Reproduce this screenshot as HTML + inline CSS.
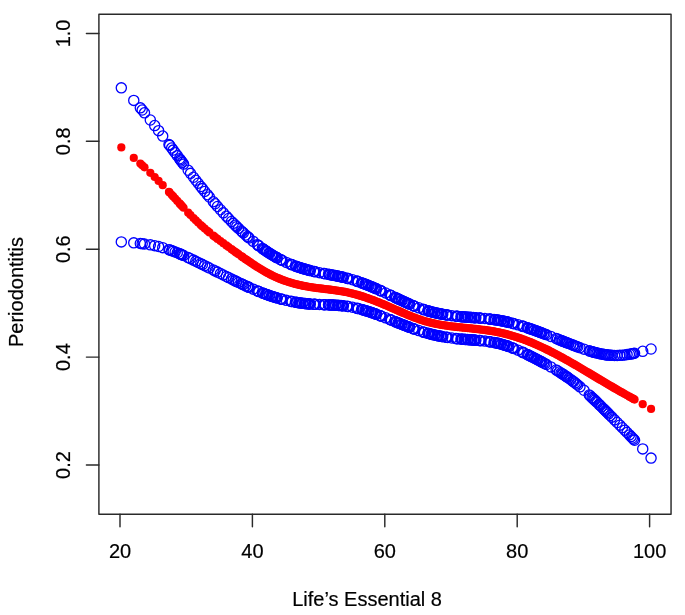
<!DOCTYPE html>
<html lang="en">
<head>
<meta charset="utf-8">
<title>Life’s Essential 8 and Periodontitis</title>
<style>
html,body{margin:0;padding:0;background:#fff;}
body{width:685px;height:615px;overflow:hidden;font-family:"Liberation Sans", Arial, Helvetica, sans-serif;}
svg{display:block;}
</style>
</head>
<body>
<svg width="685" height="615" viewBox="0 0 685 615">
<rect x="0" y="0" width="685" height="615" fill="#ffffff"/>
<g fill="none" stroke="#0000ff" stroke-width="1.3"><circle cx="121.32" cy="87.84" r="5.1"/><circle cx="133.77" cy="100.42" r="5.1"/><circle cx="140.32" cy="107.84" r="5.1"/><circle cx="142.18" cy="110.03" r="5.1"/><circle cx="144.49" cy="112.81" r="5.1"/><circle cx="150.32" cy="120" r="5.1"/><circle cx="154.69" cy="125.57" r="5.1"/><circle cx="158.59" cy="130.65" r="5.1"/><circle cx="162.7" cy="136.06" r="5.1"/><circle cx="168.99" cy="144.48" r="5.1"/><circle cx="169.65" cy="145.37" r="5.1"/><circle cx="171.64" cy="148.05" r="5.1"/><circle cx="173.16" cy="150.1" r="5.1"/><circle cx="175.14" cy="152.79" r="5.1"/><circle cx="177.26" cy="155.65" r="5.1"/><circle cx="179.58" cy="158.77" r="5.1"/><circle cx="180.37" cy="159.84" r="5.1"/><circle cx="181.24" cy="161" r="5.1"/><circle cx="182.23" cy="162.34" r="5.1"/><circle cx="183.55" cy="164.11" r="5.1"/><circle cx="188.19" cy="170.29" r="5.1"/><circle cx="190.5" cy="173.35" r="5.1"/><circle cx="193.48" cy="177.25" r="5.1"/><circle cx="195.8" cy="180.24" r="5.1"/><circle cx="198.12" cy="183.2" r="5.1"/><circle cx="200.76" cy="186.54" r="5.1"/><circle cx="202.42" cy="188.6" r="5.1"/><circle cx="204.74" cy="191.46" r="5.1"/><circle cx="207.38" cy="194.68" r="5.1"/><circle cx="209.37" cy="197.05" r="5.1"/><circle cx="213.34" cy="201.72" r="5.1"/><circle cx="215.13" cy="203.79" r="5.1"/><circle cx="217.51" cy="206.5" r="5.1"/><circle cx="220.43" cy="209.76" r="5.1"/><circle cx="223.27" cy="212.87" r="5.1"/><circle cx="226.32" cy="216.13" r="5.1"/><circle cx="228.57" cy="218.49" r="5.1"/><circle cx="231.48" cy="221.49" r="5.1"/><circle cx="233.33" cy="223.35" r="5.1"/><circle cx="235.19" cy="225.19" r="5.1"/><circle cx="236.67" cy="226.64" r="5.1"/><circle cx="238.52" cy="228.42" r="5.1"/><circle cx="241.3" cy="231.04" r="5.1"/><circle cx="242.32" cy="231.98" r="5.1"/><circle cx="243.34" cy="232.91" r="5.1"/><circle cx="245.66" cy="235" r="5.1"/><circle cx="247.44" cy="236.56" r="5.1"/><circle cx="248.26" cy="237.27" r="5.1"/><circle cx="249.09" cy="237.98" r="5.1"/><circle cx="253.23" cy="241.43" r="5.1"/><circle cx="257.37" cy="244.71" r="5.1"/><circle cx="258.19" cy="245.34" r="5.1"/><circle cx="259.02" cy="245.97" r="5.1"/><circle cx="262.33" cy="248.4" r="5.1"/><circle cx="263.16" cy="248.99" r="5.1"/><circle cx="263.99" cy="249.57" r="5.1"/><circle cx="265.64" cy="250.72" r="5.1"/><circle cx="266.47" cy="251.27" r="5.1"/><circle cx="267.3" cy="251.83" r="5.1"/><circle cx="268.95" cy="252.91" r="5.1"/><circle cx="269.78" cy="253.44" r="5.1"/><circle cx="271.43" cy="254.47" r="5.1"/><circle cx="272.26" cy="254.97" r="5.1"/><circle cx="273.09" cy="255.47" r="5.1"/><circle cx="274.74" cy="256.44" r="5.1"/><circle cx="275.57" cy="256.91" r="5.1"/><circle cx="276.4" cy="257.38" r="5.1"/><circle cx="277.23" cy="257.83" r="5.1"/><circle cx="280.54" cy="259.59" r="5.1"/><circle cx="281.36" cy="260.01" r="5.1"/><circle cx="282.19" cy="260.42" r="5.1"/><circle cx="286.33" cy="262.38" r="5.1"/><circle cx="290.47" cy="264.16" r="5.1"/><circle cx="291.29" cy="264.5" r="5.1"/><circle cx="292.12" cy="264.83" r="5.1"/><circle cx="295.43" cy="266.09" r="5.1"/><circle cx="296.26" cy="266.39" r="5.1"/><circle cx="297.09" cy="266.68" r="5.1"/><circle cx="298.74" cy="267.25" r="5.1"/><circle cx="299.57" cy="267.53" r="5.1"/><circle cx="300.39" cy="267.8" r="5.1"/><circle cx="302.05" cy="268.32" r="5.1"/><circle cx="302.88" cy="268.57" r="5.1"/><circle cx="304.53" cy="269.06" r="5.1"/><circle cx="305.36" cy="269.3" r="5.1"/><circle cx="306.19" cy="269.53" r="5.1"/><circle cx="307.84" cy="269.98" r="5.1"/><circle cx="308.67" cy="270.2" r="5.1"/><circle cx="309.5" cy="270.41" r="5.1"/><circle cx="310.32" cy="270.62" r="5.1"/><circle cx="313.63" cy="271.4" r="5.1"/><circle cx="314.46" cy="271.59" r="5.1"/><circle cx="315.29" cy="271.77" r="5.1"/><circle cx="319.43" cy="272.63" r="5.1"/><circle cx="323.56" cy="273.43" r="5.1"/><circle cx="324.39" cy="273.58" r="5.1"/><circle cx="325.22" cy="273.74" r="5.1"/><circle cx="328.53" cy="274.35" r="5.1"/><circle cx="329.36" cy="274.51" r="5.1"/><circle cx="330.19" cy="274.66" r="5.1"/><circle cx="331.84" cy="274.97" r="5.1"/><circle cx="332.67" cy="275.13" r="5.1"/><circle cx="333.5" cy="275.28" r="5.1"/><circle cx="335.15" cy="275.6" r="5.1"/><circle cx="335.98" cy="275.77" r="5.1"/><circle cx="337.63" cy="276.1" r="5.1"/><circle cx="338.46" cy="276.27" r="5.1"/><circle cx="339.29" cy="276.44" r="5.1"/><circle cx="340.94" cy="276.8" r="5.1"/><circle cx="341.77" cy="276.98" r="5.1"/><circle cx="342.6" cy="277.17" r="5.1"/><circle cx="343.43" cy="277.36" r="5.1"/><circle cx="346.74" cy="278.17" r="5.1"/><circle cx="347.56" cy="278.38" r="5.1"/><circle cx="348.39" cy="278.6" r="5.1"/><circle cx="352.53" cy="279.79" r="5.1"/><circle cx="356.67" cy="281.1" r="5.1"/><circle cx="357.49" cy="281.37" r="5.1"/><circle cx="358.32" cy="281.66" r="5.1"/><circle cx="361.63" cy="282.83" r="5.1"/><circle cx="362.46" cy="283.13" r="5.1"/><circle cx="363.28" cy="283.44" r="5.1"/><circle cx="364.94" cy="284.07" r="5.1"/><circle cx="365.77" cy="284.39" r="5.1"/><circle cx="366.6" cy="284.71" r="5.1"/><circle cx="368.25" cy="285.37" r="5.1"/><circle cx="369.08" cy="285.7" r="5.1"/><circle cx="370.73" cy="286.38" r="5.1"/><circle cx="371.56" cy="286.72" r="5.1"/><circle cx="372.39" cy="287.07" r="5.1"/><circle cx="374.04" cy="287.77" r="5.1"/><circle cx="374.87" cy="288.13" r="5.1"/><circle cx="375.7" cy="288.49" r="5.1"/><circle cx="376.52" cy="288.85" r="5.1"/><circle cx="379.83" cy="290.32" r="5.1"/><circle cx="380.66" cy="290.69" r="5.1"/><circle cx="381.49" cy="291.07" r="5.1"/><circle cx="385.63" cy="292.97" r="5.1"/><circle cx="389.76" cy="294.92" r="5.1"/><circle cx="390.59" cy="295.31" r="5.1"/><circle cx="391.42" cy="295.7" r="5.1"/><circle cx="394.73" cy="297.28" r="5.1"/><circle cx="395.56" cy="297.67" r="5.1"/><circle cx="396.38" cy="298.06" r="5.1"/><circle cx="398.04" cy="298.85" r="5.1"/><circle cx="398.87" cy="299.24" r="5.1"/><circle cx="399.7" cy="299.62" r="5.1"/><circle cx="401.35" cy="300.4" r="5.1"/><circle cx="402.18" cy="300.78" r="5.1"/><circle cx="403.83" cy="301.54" r="5.1"/><circle cx="404.66" cy="301.92" r="5.1"/><circle cx="405.49" cy="302.3" r="5.1"/><circle cx="407.14" cy="303.04" r="5.1"/><circle cx="407.97" cy="303.41" r="5.1"/><circle cx="408.8" cy="303.77" r="5.1"/><circle cx="409.62" cy="304.13" r="5.1"/><circle cx="412.94" cy="305.54" r="5.1"/><circle cx="413.76" cy="305.88" r="5.1"/><circle cx="414.59" cy="306.21" r="5.1"/><circle cx="418.73" cy="307.82" r="5.1"/><circle cx="422.87" cy="309.3" r="5.1"/><circle cx="423.69" cy="309.57" r="5.1"/><circle cx="424.52" cy="309.84" r="5.1"/><circle cx="427.83" cy="310.86" r="5.1"/><circle cx="428.66" cy="311.09" r="5.1"/><circle cx="429.49" cy="311.33" r="5.1"/><circle cx="431.14" cy="311.77" r="5.1"/><circle cx="431.97" cy="311.99" r="5.1"/><circle cx="432.8" cy="312.19" r="5.1"/><circle cx="434.45" cy="312.59" r="5.1"/><circle cx="435.28" cy="312.79" r="5.1"/><circle cx="436.93" cy="313.15" r="5.1"/><circle cx="437.76" cy="313.33" r="5.1"/><circle cx="438.59" cy="313.5" r="5.1"/><circle cx="440.24" cy="313.83" r="5.1"/><circle cx="441.07" cy="313.99" r="5.1"/><circle cx="441.9" cy="314.14" r="5.1"/><circle cx="442.73" cy="314.29" r="5.1"/><circle cx="446.04" cy="314.84" r="5.1"/><circle cx="446.86" cy="314.97" r="5.1"/><circle cx="447.69" cy="315.09" r="5.1"/><circle cx="451.83" cy="315.66" r="5.1"/><circle cx="455.97" cy="316.14" r="5.1"/><circle cx="456.79" cy="316.23" r="5.1"/><circle cx="457.62" cy="316.32" r="5.1"/><circle cx="460.93" cy="316.63" r="5.1"/><circle cx="461.76" cy="316.71" r="5.1"/><circle cx="462.59" cy="316.78" r="5.1"/><circle cx="464.24" cy="316.92" r="5.1"/><circle cx="465.07" cy="316.99" r="5.1"/><circle cx="465.9" cy="317.05" r="5.1"/><circle cx="467.55" cy="317.18" r="5.1"/><circle cx="468.38" cy="317.24" r="5.1"/><circle cx="470.03" cy="317.37" r="5.1"/><circle cx="470.86" cy="317.43" r="5.1"/><circle cx="471.69" cy="317.49" r="5.1"/><circle cx="473.34" cy="317.61" r="5.1"/><circle cx="474.17" cy="317.67" r="5.1"/><circle cx="475" cy="317.73" r="5.1"/><circle cx="475.82" cy="317.79" r="5.1"/><circle cx="479.14" cy="318.04" r="5.1"/><circle cx="479.96" cy="318.11" r="5.1"/><circle cx="480.79" cy="318.18" r="5.1"/><circle cx="484.93" cy="318.54" r="5.1"/><circle cx="489.06" cy="318.97" r="5.1"/><circle cx="489.89" cy="319.06" r="5.1"/><circle cx="490.72" cy="319.16" r="5.1"/><circle cx="494.03" cy="319.58" r="5.1"/><circle cx="494.86" cy="319.7" r="5.1"/><circle cx="495.69" cy="319.82" r="5.1"/><circle cx="497.34" cy="320.07" r="5.1"/><circle cx="498.17" cy="320.2" r="5.1"/><circle cx="499" cy="320.34" r="5.1"/><circle cx="500.65" cy="320.63" r="5.1"/><circle cx="501.48" cy="320.79" r="5.1"/><circle cx="503.13" cy="321.11" r="5.1"/><circle cx="503.96" cy="321.28" r="5.1"/><circle cx="504.79" cy="321.45" r="5.1"/><circle cx="506.44" cy="321.81" r="5.1"/><circle cx="507.27" cy="322" r="5.1"/><circle cx="508.1" cy="322.19" r="5.1"/><circle cx="508.93" cy="322.39" r="5.1"/><circle cx="512.24" cy="323.22" r="5.1"/><circle cx="513.06" cy="323.43" r="5.1"/><circle cx="513.89" cy="323.66" r="5.1"/><circle cx="518.03" cy="324.82" r="5.1"/><circle cx="522.16" cy="326.07" r="5.1"/><circle cx="522.99" cy="326.33" r="5.1"/><circle cx="523.82" cy="326.6" r="5.1"/><circle cx="527.13" cy="327.68" r="5.1"/><circle cx="527.96" cy="327.96" r="5.1"/><circle cx="528.79" cy="328.24" r="5.1"/><circle cx="530.44" cy="328.81" r="5.1"/><circle cx="531.27" cy="329.09" r="5.1"/><circle cx="532.1" cy="329.39" r="5.1"/><circle cx="533.75" cy="329.97" r="5.1"/><circle cx="534.58" cy="330.27" r="5.1"/><circle cx="536.23" cy="330.87" r="5.1"/><circle cx="537.06" cy="331.17" r="5.1"/><circle cx="537.89" cy="331.48" r="5.1"/><circle cx="539.54" cy="332.1" r="5.1"/><circle cx="540.37" cy="332.41" r="5.1"/><circle cx="541.2" cy="332.72" r="5.1"/><circle cx="542.02" cy="333.03" r="5.1"/><circle cx="543.68" cy="333.66" r="5.1"/><circle cx="545" cy="334.17" r="5.1"/><circle cx="546.59" cy="334.78" r="5.1"/><circle cx="550.83" cy="336.44" r="5.1"/><circle cx="556.13" cy="338.53" r="5.1"/><circle cx="557.45" cy="339.05" r="5.1"/><circle cx="559.37" cy="339.81" r="5.1"/><circle cx="560.96" cy="340.44" r="5.1"/><circle cx="562.02" cy="340.86" r="5.1"/><circle cx="562.81" cy="341.17" r="5.1"/><circle cx="564.14" cy="341.69" r="5.1"/><circle cx="565.46" cy="342.21" r="5.1"/><circle cx="566.52" cy="342.62" r="5.1"/><circle cx="567.31" cy="342.93" r="5.1"/><circle cx="568.9" cy="343.55" r="5.1"/><circle cx="570.82" cy="344.29" r="5.1"/><circle cx="572.74" cy="345.03" r="5.1"/><circle cx="573.54" cy="345.33" r="5.1"/><circle cx="575.12" cy="345.93" r="5.1"/><circle cx="576.45" cy="346.42" r="5.1"/><circle cx="577.77" cy="346.92" r="5.1"/><circle cx="579.98" cy="347.72" r="5.1"/><circle cx="584.02" cy="349.14" r="5.1"/><circle cx="589.27" cy="350.86" r="5.1"/><circle cx="590.18" cy="351.14" r="5.1"/><circle cx="592.01" cy="351.67" r="5.1"/><circle cx="592.92" cy="351.93" r="5.1"/><circle cx="593.84" cy="352.19" r="5.1"/><circle cx="594.75" cy="352.43" r="5.1"/><circle cx="595.97" cy="352.75" r="5.1"/><circle cx="597.19" cy="353.05" r="5.1"/><circle cx="599.01" cy="353.47" r="5.1"/><circle cx="599.93" cy="353.67" r="5.1"/><circle cx="601.45" cy="353.98" r="5.1"/><circle cx="603.26" cy="354.32" r="5.1"/><circle cx="604.25" cy="354.49" r="5.1"/><circle cx="605.25" cy="354.64" r="5.1"/><circle cx="606.24" cy="354.78" r="5.1"/><circle cx="607.23" cy="354.91" r="5.1"/><circle cx="608.56" cy="355.07" r="5.1"/><circle cx="610.21" cy="355.22" r="5.1"/><circle cx="611.87" cy="355.34" r="5.1"/><circle cx="614.51" cy="355.44" r="5.1"/><circle cx="617.16" cy="355.43" r="5.1"/><circle cx="619.81" cy="355.33" r="5.1"/><circle cx="622.33" cy="355.14" r="5.1"/><circle cx="624.77" cy="354.88" r="5.1"/><circle cx="627.09" cy="354.58" r="5.1"/><circle cx="629.41" cy="354.22" r="5.1"/><circle cx="631.06" cy="353.93" r="5.1"/><circle cx="632.39" cy="353.69" r="5.1"/><circle cx="633.51" cy="353.46" r="5.1"/><circle cx="634.57" cy="353.24" r="5.1"/><circle cx="642.72" cy="351.31" r="5.1"/><circle cx="651.06" cy="349.01" r="5.1"/><circle cx="121.32" cy="241.88" r="5.1"/><circle cx="133.77" cy="242.85" r="5.1"/><circle cx="140.32" cy="243.47" r="5.1"/><circle cx="142.18" cy="243.67" r="5.1"/><circle cx="144.49" cy="243.96" r="5.1"/><circle cx="150.32" cy="244.83" r="5.1"/><circle cx="154.69" cy="245.65" r="5.1"/><circle cx="158.59" cy="246.54" r="5.1"/><circle cx="162.7" cy="247.64" r="5.1"/><circle cx="168.99" cy="249.66" r="5.1"/><circle cx="169.65" cy="249.89" r="5.1"/><circle cx="171.64" cy="250.61" r="5.1"/><circle cx="173.16" cy="251.18" r="5.1"/><circle cx="175.14" cy="251.95" r="5.1"/><circle cx="177.26" cy="252.8" r="5.1"/><circle cx="179.58" cy="253.77" r="5.1"/><circle cx="180.37" cy="254.11" r="5.1"/><circle cx="181.24" cy="254.48" r="5.1"/><circle cx="182.23" cy="254.91" r="5.1"/><circle cx="183.55" cy="255.5" r="5.1"/><circle cx="188.19" cy="257.61" r="5.1"/><circle cx="190.5" cy="258.7" r="5.1"/><circle cx="193.48" cy="260.12" r="5.1"/><circle cx="195.8" cy="261.24" r="5.1"/><circle cx="198.12" cy="262.38" r="5.1"/><circle cx="200.76" cy="263.68" r="5.1"/><circle cx="202.42" cy="264.5" r="5.1"/><circle cx="204.74" cy="265.66" r="5.1"/><circle cx="207.38" cy="266.98" r="5.1"/><circle cx="209.37" cy="267.98" r="5.1"/><circle cx="213.34" cy="269.97" r="5.1"/><circle cx="215.13" cy="270.88" r="5.1"/><circle cx="217.51" cy="272.08" r="5.1"/><circle cx="220.43" cy="273.54" r="5.1"/><circle cx="223.27" cy="274.97" r="5.1"/><circle cx="226.32" cy="276.49" r="5.1"/><circle cx="228.57" cy="277.61" r="5.1"/><circle cx="231.48" cy="279.05" r="5.1"/><circle cx="233.33" cy="279.96" r="5.1"/><circle cx="235.19" cy="280.86" r="5.1"/><circle cx="236.67" cy="281.58" r="5.1"/><circle cx="238.52" cy="282.47" r="5.1"/><circle cx="241.3" cy="283.79" r="5.1"/><circle cx="242.32" cy="284.27" r="5.1"/><circle cx="243.34" cy="284.75" r="5.1"/><circle cx="245.66" cy="285.82" r="5.1"/><circle cx="247.44" cy="286.63" r="5.1"/><circle cx="248.26" cy="287" r="5.1"/><circle cx="249.09" cy="287.37" r="5.1"/><circle cx="253.23" cy="289.19" r="5.1"/><circle cx="257.37" cy="290.94" r="5.1"/><circle cx="258.19" cy="291.28" r="5.1"/><circle cx="259.02" cy="291.61" r="5.1"/><circle cx="262.33" cy="292.92" r="5.1"/><circle cx="263.16" cy="293.24" r="5.1"/><circle cx="263.99" cy="293.55" r="5.1"/><circle cx="265.64" cy="294.17" r="5.1"/><circle cx="266.47" cy="294.47" r="5.1"/><circle cx="267.3" cy="294.77" r="5.1"/><circle cx="268.95" cy="295.35" r="5.1"/><circle cx="269.78" cy="295.64" r="5.1"/><circle cx="271.43" cy="296.19" r="5.1"/><circle cx="272.26" cy="296.47" r="5.1"/><circle cx="273.09" cy="296.73" r="5.1"/><circle cx="274.74" cy="297.25" r="5.1"/><circle cx="275.57" cy="297.51" r="5.1"/><circle cx="276.4" cy="297.75" r="5.1"/><circle cx="277.23" cy="298" r="5.1"/><circle cx="280.54" cy="298.93" r="5.1"/><circle cx="281.36" cy="299.15" r="5.1"/><circle cx="282.19" cy="299.36" r="5.1"/><circle cx="286.33" cy="300.37" r="5.1"/><circle cx="290.47" cy="301.27" r="5.1"/><circle cx="291.29" cy="301.44" r="5.1"/><circle cx="292.12" cy="301.6" r="5.1"/><circle cx="295.43" cy="302.2" r="5.1"/><circle cx="296.26" cy="302.34" r="5.1"/><circle cx="297.09" cy="302.47" r="5.1"/><circle cx="298.74" cy="302.73" r="5.1"/><circle cx="299.57" cy="302.85" r="5.1"/><circle cx="300.39" cy="302.97" r="5.1"/><circle cx="302.05" cy="303.19" r="5.1"/><circle cx="302.88" cy="303.3" r="5.1"/><circle cx="304.53" cy="303.49" r="5.1"/><circle cx="305.36" cy="303.59" r="5.1"/><circle cx="306.19" cy="303.67" r="5.1"/><circle cx="307.84" cy="303.83" r="5.1"/><circle cx="308.67" cy="303.91" r="5.1"/><circle cx="309.5" cy="303.98" r="5.1"/><circle cx="310.32" cy="304.05" r="5.1"/><circle cx="313.63" cy="304.27" r="5.1"/><circle cx="314.46" cy="304.32" r="5.1"/><circle cx="315.29" cy="304.36" r="5.1"/><circle cx="319.43" cy="304.55" r="5.1"/><circle cx="323.56" cy="304.69" r="5.1"/><circle cx="324.39" cy="304.72" r="5.1"/><circle cx="325.22" cy="304.75" r="5.1"/><circle cx="328.53" cy="304.86" r="5.1"/><circle cx="329.36" cy="304.89" r="5.1"/><circle cx="330.19" cy="304.93" r="5.1"/><circle cx="331.84" cy="305" r="5.1"/><circle cx="332.67" cy="305.04" r="5.1"/><circle cx="333.5" cy="305.08" r="5.1"/><circle cx="335.15" cy="305.17" r="5.1"/><circle cx="335.98" cy="305.22" r="5.1"/><circle cx="337.63" cy="305.33" r="5.1"/><circle cx="338.46" cy="305.39" r="5.1"/><circle cx="339.29" cy="305.45" r="5.1"/><circle cx="340.94" cy="305.6" r="5.1"/><circle cx="341.77" cy="305.68" r="5.1"/><circle cx="342.6" cy="305.76" r="5.1"/><circle cx="343.43" cy="305.85" r="5.1"/><circle cx="346.74" cy="306.27" r="5.1"/><circle cx="347.56" cy="306.4" r="5.1"/><circle cx="348.39" cy="306.52" r="5.1"/><circle cx="352.53" cy="307.27" r="5.1"/><circle cx="356.67" cy="308.18" r="5.1"/><circle cx="357.49" cy="308.39" r="5.1"/><circle cx="358.32" cy="308.59" r="5.1"/><circle cx="361.63" cy="309.47" r="5.1"/><circle cx="362.46" cy="309.71" r="5.1"/><circle cx="363.28" cy="309.95" r="5.1"/><circle cx="364.94" cy="310.44" r="5.1"/><circle cx="365.77" cy="310.69" r="5.1"/><circle cx="366.6" cy="310.95" r="5.1"/><circle cx="368.25" cy="311.48" r="5.1"/><circle cx="369.08" cy="311.75" r="5.1"/><circle cx="370.73" cy="312.3" r="5.1"/><circle cx="371.56" cy="312.58" r="5.1"/><circle cx="372.39" cy="312.87" r="5.1"/><circle cx="374.04" cy="313.45" r="5.1"/><circle cx="374.87" cy="313.75" r="5.1"/><circle cx="375.7" cy="314.04" r="5.1"/><circle cx="376.52" cy="314.35" r="5.1"/><circle cx="379.83" cy="315.58" r="5.1"/><circle cx="380.66" cy="315.9" r="5.1"/><circle cx="381.49" cy="316.21" r="5.1"/><circle cx="385.63" cy="317.82" r="5.1"/><circle cx="389.76" cy="319.47" r="5.1"/><circle cx="390.59" cy="319.8" r="5.1"/><circle cx="391.42" cy="320.14" r="5.1"/><circle cx="394.73" cy="321.47" r="5.1"/><circle cx="395.56" cy="321.81" r="5.1"/><circle cx="396.38" cy="322.14" r="5.1"/><circle cx="398.04" cy="322.81" r="5.1"/><circle cx="398.87" cy="323.14" r="5.1"/><circle cx="399.7" cy="323.47" r="5.1"/><circle cx="401.35" cy="324.13" r="5.1"/><circle cx="402.18" cy="324.46" r="5.1"/><circle cx="403.83" cy="325.11" r="5.1"/><circle cx="404.66" cy="325.44" r="5.1"/><circle cx="405.49" cy="325.76" r="5.1"/><circle cx="407.14" cy="326.4" r="5.1"/><circle cx="407.97" cy="326.71" r="5.1"/><circle cx="408.8" cy="327.03" r="5.1"/><circle cx="409.62" cy="327.34" r="5.1"/><circle cx="412.94" cy="328.56" r="5.1"/><circle cx="413.76" cy="328.86" r="5.1"/><circle cx="414.59" cy="329.15" r="5.1"/><circle cx="418.73" cy="330.57" r="5.1"/><circle cx="422.87" cy="331.89" r="5.1"/><circle cx="423.69" cy="332.14" r="5.1"/><circle cx="424.52" cy="332.39" r="5.1"/><circle cx="427.83" cy="333.32" r="5.1"/><circle cx="428.66" cy="333.54" r="5.1"/><circle cx="429.49" cy="333.76" r="5.1"/><circle cx="431.14" cy="334.18" r="5.1"/><circle cx="431.97" cy="334.38" r="5.1"/><circle cx="432.8" cy="334.58" r="5.1"/><circle cx="434.45" cy="334.96" r="5.1"/><circle cx="435.28" cy="335.15" r="5.1"/><circle cx="436.93" cy="335.51" r="5.1"/><circle cx="437.76" cy="335.68" r="5.1"/><circle cx="438.59" cy="335.85" r="5.1"/><circle cx="440.24" cy="336.18" r="5.1"/><circle cx="441.07" cy="336.34" r="5.1"/><circle cx="441.9" cy="336.49" r="5.1"/><circle cx="442.73" cy="336.64" r="5.1"/><circle cx="446.04" cy="337.2" r="5.1"/><circle cx="446.86" cy="337.33" r="5.1"/><circle cx="447.69" cy="337.46" r="5.1"/><circle cx="451.83" cy="338.05" r="5.1"/><circle cx="455.97" cy="338.56" r="5.1"/><circle cx="456.79" cy="338.65" r="5.1"/><circle cx="457.62" cy="338.74" r="5.1"/><circle cx="460.93" cy="339.07" r="5.1"/><circle cx="461.76" cy="339.15" r="5.1"/><circle cx="462.59" cy="339.22" r="5.1"/><circle cx="464.24" cy="339.36" r="5.1"/><circle cx="465.07" cy="339.43" r="5.1"/><circle cx="465.9" cy="339.49" r="5.1"/><circle cx="467.55" cy="339.62" r="5.1"/><circle cx="468.38" cy="339.68" r="5.1"/><circle cx="470.03" cy="339.8" r="5.1"/><circle cx="470.86" cy="339.86" r="5.1"/><circle cx="471.69" cy="339.92" r="5.1"/><circle cx="473.34" cy="340.05" r="5.1"/><circle cx="474.17" cy="340.11" r="5.1"/><circle cx="475" cy="340.17" r="5.1"/><circle cx="475.82" cy="340.24" r="5.1"/><circle cx="479.14" cy="340.51" r="5.1"/><circle cx="479.96" cy="340.59" r="5.1"/><circle cx="480.79" cy="340.66" r="5.1"/><circle cx="484.93" cy="341.1" r="5.1"/><circle cx="489.06" cy="341.64" r="5.1"/><circle cx="489.89" cy="341.76" r="5.1"/><circle cx="490.72" cy="341.89" r="5.1"/><circle cx="494.03" cy="342.47" r="5.1"/><circle cx="494.86" cy="342.63" r="5.1"/><circle cx="495.69" cy="342.8" r="5.1"/><circle cx="497.34" cy="343.16" r="5.1"/><circle cx="498.17" cy="343.35" r="5.1"/><circle cx="499" cy="343.55" r="5.1"/><circle cx="500.65" cy="343.97" r="5.1"/><circle cx="501.48" cy="344.2" r="5.1"/><circle cx="503.13" cy="344.67" r="5.1"/><circle cx="503.96" cy="344.92" r="5.1"/><circle cx="504.79" cy="345.18" r="5.1"/><circle cx="506.44" cy="345.71" r="5.1"/><circle cx="507.27" cy="345.99" r="5.1"/><circle cx="508.1" cy="346.28" r="5.1"/><circle cx="508.93" cy="346.57" r="5.1"/><circle cx="512.24" cy="347.81" r="5.1"/><circle cx="513.06" cy="348.13" r="5.1"/><circle cx="513.89" cy="348.47" r="5.1"/><circle cx="518.03" cy="350.2" r="5.1"/><circle cx="522.16" cy="352.07" r="5.1"/><circle cx="522.99" cy="352.45" r="5.1"/><circle cx="523.82" cy="352.84" r="5.1"/><circle cx="527.13" cy="354.43" r="5.1"/><circle cx="527.96" cy="354.84" r="5.1"/><circle cx="528.79" cy="355.25" r="5.1"/><circle cx="530.44" cy="356.08" r="5.1"/><circle cx="531.27" cy="356.5" r="5.1"/><circle cx="532.1" cy="356.92" r="5.1"/><circle cx="533.75" cy="357.76" r="5.1"/><circle cx="534.58" cy="358.19" r="5.1"/><circle cx="536.23" cy="359.04" r="5.1"/><circle cx="537.06" cy="359.48" r="5.1"/><circle cx="537.89" cy="359.91" r="5.1"/><circle cx="539.54" cy="360.77" r="5.1"/><circle cx="540.37" cy="361.21" r="5.1"/><circle cx="541.2" cy="361.65" r="5.1"/><circle cx="542.02" cy="362.08" r="5.1"/><circle cx="543.68" cy="362.97" r="5.1"/><circle cx="545" cy="363.68" r="5.1"/><circle cx="546.59" cy="364.54" r="5.1"/><circle cx="550.83" cy="366.9" r="5.1"/><circle cx="556.13" cy="369.98" r="5.1"/><circle cx="557.45" cy="370.78" r="5.1"/><circle cx="559.37" cy="371.96" r="5.1"/><circle cx="560.96" cy="372.96" r="5.1"/><circle cx="562.02" cy="373.64" r="5.1"/><circle cx="562.81" cy="374.15" r="5.1"/><circle cx="564.14" cy="375.02" r="5.1"/><circle cx="565.46" cy="375.91" r="5.1"/><circle cx="566.52" cy="376.63" r="5.1"/><circle cx="567.31" cy="377.18" r="5.1"/><circle cx="568.9" cy="378.29" r="5.1"/><circle cx="570.82" cy="379.67" r="5.1"/><circle cx="572.74" cy="381.09" r="5.1"/><circle cx="573.54" cy="381.69" r="5.1"/><circle cx="575.12" cy="382.92" r="5.1"/><circle cx="576.45" cy="383.96" r="5.1"/><circle cx="577.77" cy="385.03" r="5.1"/><circle cx="579.98" cy="386.85" r="5.1"/><circle cx="584.02" cy="390.3" r="5.1"/><circle cx="589.27" cy="395.03" r="5.1"/><circle cx="590.18" cy="395.88" r="5.1"/><circle cx="592.01" cy="397.59" r="5.1"/><circle cx="592.92" cy="398.45" r="5.1"/><circle cx="593.84" cy="399.32" r="5.1"/><circle cx="594.75" cy="400.19" r="5.1"/><circle cx="595.97" cy="401.37" r="5.1"/><circle cx="597.19" cy="402.55" r="5.1"/><circle cx="599.01" cy="404.33" r="5.1"/><circle cx="599.93" cy="405.23" r="5.1"/><circle cx="601.45" cy="406.73" r="5.1"/><circle cx="603.26" cy="408.53" r="5.1"/><circle cx="604.25" cy="409.52" r="5.1"/><circle cx="605.25" cy="410.51" r="5.1"/><circle cx="606.24" cy="411.51" r="5.1"/><circle cx="607.23" cy="412.5" r="5.1"/><circle cx="608.56" cy="413.83" r="5.1"/><circle cx="610.21" cy="415.5" r="5.1"/><circle cx="611.87" cy="417.17" r="5.1"/><circle cx="614.51" cy="419.84" r="5.1"/><circle cx="617.16" cy="422.5" r="5.1"/><circle cx="619.81" cy="425.17" r="5.1"/><circle cx="622.33" cy="427.71" r="5.1"/><circle cx="624.77" cy="430.19" r="5.1"/><circle cx="627.09" cy="432.54" r="5.1"/><circle cx="629.41" cy="434.91" r="5.1"/><circle cx="631.06" cy="436.61" r="5.1"/><circle cx="632.39" cy="437.98" r="5.1"/><circle cx="633.51" cy="439.14" r="5.1"/><circle cx="634.57" cy="440.25" r="5.1"/><circle cx="642.72" cy="448.88" r="5.1"/><circle cx="651.06" cy="458.1" r="5.1"/></g>
<g fill="#ff0000" stroke="none"><circle cx="121.32" cy="147.39" r="4.1"/><circle cx="133.77" cy="157.9" r="4.1"/><circle cx="140.32" cy="163.62" r="4.1"/><circle cx="142.18" cy="165.28" r="4.1"/><circle cx="144.49" cy="167.37" r="4.1"/><circle cx="150.32" cy="172.78" r="4.1"/><circle cx="154.69" cy="177" r="4.1"/><circle cx="158.59" cy="180.91" r="4.1"/><circle cx="162.7" cy="185.16" r="4.1"/><circle cx="168.99" cy="191.89" r="4.1"/><circle cx="169.65" cy="192.61" r="4.1"/><circle cx="171.64" cy="194.78" r="4.1"/><circle cx="173.16" cy="196.44" r="4.1"/><circle cx="175.14" cy="198.62" r="4.1"/><circle cx="177.26" cy="200.94" r="4.1"/><circle cx="179.58" cy="203.47" r="4.1"/><circle cx="180.37" cy="204.33" r="4.1"/><circle cx="181.24" cy="205.26" r="4.1"/><circle cx="182.23" cy="206.34" r="4.1"/><circle cx="183.55" cy="207.76" r="4.1"/><circle cx="188.19" cy="212.68" r="4.1"/><circle cx="190.5" cy="215.07" r="4.1"/><circle cx="193.48" cy="218.08" r="4.1"/><circle cx="195.8" cy="220.36" r="4.1"/><circle cx="198.12" cy="222.57" r="4.1"/><circle cx="200.76" cy="225.01" r="4.1"/><circle cx="202.42" cy="226.5" r="4.1"/><circle cx="204.74" cy="228.54" r="4.1"/><circle cx="207.38" cy="230.79" r="4.1"/><circle cx="209.37" cy="232.45" r="4.1"/><circle cx="213.34" cy="235.65" r="4.1"/><circle cx="215.13" cy="237.06" r="4.1"/><circle cx="217.51" cy="238.9" r="4.1"/><circle cx="220.43" cy="241.11" r="4.1"/><circle cx="223.27" cy="243.22" r="4.1"/><circle cx="226.32" cy="245.45" r="4.1"/><circle cx="228.57" cy="247.08" r="4.1"/><circle cx="231.48" cy="249.18" r="4.1"/><circle cx="233.33" cy="250.51" r="4.1"/><circle cx="235.19" cy="251.83" r="4.1"/><circle cx="236.67" cy="252.89" r="4.1"/><circle cx="238.52" cy="254.22" r="4.1"/><circle cx="241.3" cy="256.19" r="4.1"/><circle cx="242.32" cy="256.91" r="4.1"/><circle cx="243.34" cy="257.63" r="4.1"/><circle cx="245.66" cy="259.25" r="4.1"/><circle cx="245.78" cy="259.33" r="4.1"/><circle cx="247.44" cy="260.47" r="4.1"/><circle cx="249.09" cy="261.6" r="4.1"/><circle cx="250.75" cy="262.72" r="4.1"/><circle cx="252.4" cy="263.83" r="4.1"/><circle cx="254.06" cy="264.92" r="4.1"/><circle cx="255.71" cy="265.99" r="4.1"/><circle cx="257.37" cy="267.05" r="4.1"/><circle cx="259.02" cy="268.08" r="4.1"/><circle cx="260.68" cy="269.1" r="4.1"/><circle cx="262.33" cy="270.09" r="4.1"/><circle cx="263.99" cy="271.05" r="4.1"/><circle cx="265.64" cy="272" r="4.1"/><circle cx="267.3" cy="272.91" r="4.1"/><circle cx="268.95" cy="273.8" r="4.1"/><circle cx="270.61" cy="274.65" r="4.1"/><circle cx="272.26" cy="275.48" r="4.1"/><circle cx="273.92" cy="276.28" r="4.1"/><circle cx="275.57" cy="277.04" r="4.1"/><circle cx="277.23" cy="277.77" r="4.1"/><circle cx="278.88" cy="278.47" r="4.1"/><circle cx="280.54" cy="279.14" r="4.1"/><circle cx="282.19" cy="279.79" r="4.1"/><circle cx="283.85" cy="280.4" r="4.1"/><circle cx="285.5" cy="280.99" r="4.1"/><circle cx="287.16" cy="281.55" r="4.1"/><circle cx="288.81" cy="282.09" r="4.1"/><circle cx="290.47" cy="282.6" r="4.1"/><circle cx="292.12" cy="283.09" r="4.1"/><circle cx="293.77" cy="283.55" r="4.1"/><circle cx="295.43" cy="284" r="4.1"/><circle cx="297.09" cy="284.42" r="4.1"/><circle cx="298.74" cy="284.82" r="4.1"/><circle cx="300.39" cy="285.19" r="4.1"/><circle cx="302.05" cy="285.55" r="4.1"/><circle cx="303.71" cy="285.89" r="4.1"/><circle cx="305.36" cy="286.22" r="4.1"/><circle cx="307.01" cy="286.52" r="4.1"/><circle cx="308.67" cy="286.81" r="4.1"/><circle cx="310.32" cy="287.08" r="4.1"/><circle cx="311.98" cy="287.34" r="4.1"/><circle cx="313.63" cy="287.59" r="4.1"/><circle cx="315.29" cy="287.82" r="4.1"/><circle cx="316.94" cy="288.04" r="4.1"/><circle cx="318.6" cy="288.26" r="4.1"/><circle cx="320.25" cy="288.47" r="4.1"/><circle cx="321.91" cy="288.67" r="4.1"/><circle cx="323.56" cy="288.87" r="4.1"/><circle cx="325.22" cy="289.07" r="4.1"/><circle cx="326.88" cy="289.27" r="4.1"/><circle cx="328.53" cy="289.47" r="4.1"/><circle cx="330.19" cy="289.67" r="4.1"/><circle cx="331.84" cy="289.88" r="4.1"/><circle cx="333.5" cy="290.1" r="4.1"/><circle cx="335.15" cy="290.32" r="4.1"/><circle cx="336.81" cy="290.56" r="4.1"/><circle cx="338.46" cy="290.8" r="4.1"/><circle cx="340.12" cy="291.06" r="4.1"/><circle cx="341.77" cy="291.33" r="4.1"/><circle cx="343.43" cy="291.62" r="4.1"/><circle cx="345.08" cy="291.93" r="4.1"/><circle cx="346.74" cy="292.26" r="4.1"/><circle cx="348.39" cy="292.61" r="4.1"/><circle cx="350.05" cy="292.98" r="4.1"/><circle cx="351.7" cy="293.38" r="4.1"/><circle cx="353.36" cy="293.79" r="4.1"/><circle cx="355.01" cy="294.23" r="4.1"/><circle cx="356.67" cy="294.68" r="4.1"/><circle cx="358.32" cy="295.16" r="4.1"/><circle cx="359.98" cy="295.65" r="4.1"/><circle cx="361.63" cy="296.17" r="4.1"/><circle cx="363.28" cy="296.7" r="4.1"/><circle cx="364.94" cy="297.24" r="4.1"/><circle cx="366.6" cy="297.81" r="4.1"/><circle cx="368.25" cy="298.39" r="4.1"/><circle cx="369.91" cy="298.98" r="4.1"/><circle cx="371.56" cy="299.59" r="4.1"/><circle cx="373.22" cy="300.21" r="4.1"/><circle cx="374.87" cy="300.85" r="4.1"/><circle cx="376.52" cy="301.5" r="4.1"/><circle cx="378.18" cy="302.16" r="4.1"/><circle cx="379.83" cy="302.83" r="4.1"/><circle cx="381.49" cy="303.51" r="4.1"/><circle cx="383.15" cy="304.21" r="4.1"/><circle cx="384.8" cy="304.91" r="4.1"/><circle cx="386.46" cy="305.62" r="4.1"/><circle cx="388.11" cy="306.34" r="4.1"/><circle cx="389.76" cy="307.06" r="4.1"/><circle cx="391.42" cy="307.79" r="4.1"/><circle cx="393.07" cy="308.52" r="4.1"/><circle cx="394.73" cy="309.26" r="4.1"/><circle cx="396.38" cy="309.99" r="4.1"/><circle cx="398.04" cy="310.72" r="4.1"/><circle cx="399.7" cy="311.45" r="4.1"/><circle cx="401.35" cy="312.18" r="4.1"/><circle cx="403" cy="312.9" r="4.1"/><circle cx="404.66" cy="313.61" r="4.1"/><circle cx="406.31" cy="314.32" r="4.1"/><circle cx="407.97" cy="315.01" r="4.1"/><circle cx="409.62" cy="315.69" r="4.1"/><circle cx="411.28" cy="316.36" r="4.1"/><circle cx="412.94" cy="317.01" r="4.1"/><circle cx="414.59" cy="317.65" r="4.1"/><circle cx="416.25" cy="318.26" r="4.1"/><circle cx="417.9" cy="318.86" r="4.1"/><circle cx="419.56" cy="319.44" r="4.1"/><circle cx="421.21" cy="320" r="4.1"/><circle cx="422.87" cy="320.53" r="4.1"/><circle cx="424.52" cy="321.03" r="4.1"/><circle cx="426.18" cy="321.51" r="4.1"/><circle cx="427.83" cy="321.96" r="4.1"/><circle cx="429.49" cy="322.39" r="4.1"/><circle cx="431.14" cy="322.8" r="4.1"/><circle cx="432.8" cy="323.19" r="4.1"/><circle cx="434.45" cy="323.55" r="4.1"/><circle cx="436.11" cy="323.9" r="4.1"/><circle cx="437.76" cy="324.23" r="4.1"/><circle cx="439.42" cy="324.54" r="4.1"/><circle cx="441.07" cy="324.83" r="4.1"/><circle cx="442.73" cy="325.11" r="4.1"/><circle cx="444.38" cy="325.37" r="4.1"/><circle cx="446.04" cy="325.62" r="4.1"/><circle cx="447.69" cy="325.86" r="4.1"/><circle cx="449.35" cy="326.08" r="4.1"/><circle cx="451" cy="326.3" r="4.1"/><circle cx="452.66" cy="326.5" r="4.1"/><circle cx="454.31" cy="326.7" r="4.1"/><circle cx="455.97" cy="326.89" r="4.1"/><circle cx="457.62" cy="327.07" r="4.1"/><circle cx="459.27" cy="327.25" r="4.1"/><circle cx="460.93" cy="327.42" r="4.1"/><circle cx="462.59" cy="327.6" r="4.1"/><circle cx="464.24" cy="327.76" r="4.1"/><circle cx="465.9" cy="327.93" r="4.1"/><circle cx="467.55" cy="328.1" r="4.1"/><circle cx="469.21" cy="328.27" r="4.1"/><circle cx="470.86" cy="328.43" r="4.1"/><circle cx="472.51" cy="328.6" r="4.1"/><circle cx="474.17" cy="328.78" r="4.1"/><circle cx="475.82" cy="328.96" r="4.1"/><circle cx="477.48" cy="329.14" r="4.1"/><circle cx="479.14" cy="329.33" r="4.1"/><circle cx="480.79" cy="329.53" r="4.1"/><circle cx="482.45" cy="329.73" r="4.1"/><circle cx="484.1" cy="329.95" r="4.1"/><circle cx="485.75" cy="330.17" r="4.1"/><circle cx="487.41" cy="330.41" r="4.1"/><circle cx="489.06" cy="330.65" r="4.1"/><circle cx="490.72" cy="330.91" r="4.1"/><circle cx="492.38" cy="331.19" r="4.1"/><circle cx="494.03" cy="331.47" r="4.1"/><circle cx="495.69" cy="331.78" r="4.1"/><circle cx="497.34" cy="332.1" r="4.1"/><circle cx="499" cy="332.43" r="4.1"/><circle cx="500.65" cy="332.79" r="4.1"/><circle cx="502.31" cy="333.16" r="4.1"/><circle cx="503.96" cy="333.55" r="4.1"/><circle cx="505.62" cy="333.96" r="4.1"/><circle cx="507.27" cy="334.39" r="4.1"/><circle cx="508.93" cy="334.84" r="4.1"/><circle cx="510.58" cy="335.3" r="4.1"/><circle cx="512.24" cy="335.78" r="4.1"/><circle cx="513.89" cy="336.28" r="4.1"/><circle cx="515.55" cy="336.8" r="4.1"/><circle cx="517.2" cy="337.33" r="4.1"/><circle cx="518.86" cy="337.88" r="4.1"/><circle cx="520.51" cy="338.44" r="4.1"/><circle cx="522.16" cy="339.02" r="4.1"/><circle cx="523.82" cy="339.62" r="4.1"/><circle cx="525.48" cy="340.24" r="4.1"/><circle cx="527.13" cy="340.87" r="4.1"/><circle cx="528.79" cy="341.52" r="4.1"/><circle cx="530.44" cy="342.18" r="4.1"/><circle cx="532.1" cy="342.86" r="4.1"/><circle cx="533.75" cy="343.55" r="4.1"/><circle cx="535.4" cy="344.26" r="4.1"/><circle cx="537.06" cy="344.99" r="4.1"/><circle cx="538.72" cy="345.73" r="4.1"/><circle cx="540.37" cy="346.48" r="4.1"/><circle cx="542.02" cy="347.25" r="4.1"/><circle cx="543.68" cy="348.03" r="4.1"/><circle cx="545.34" cy="348.83" r="4.1"/><circle cx="546.99" cy="349.64" r="4.1"/><circle cx="548.64" cy="350.46" r="4.1"/><circle cx="550.3" cy="351.29" r="4.1"/><circle cx="551.96" cy="352.13" r="4.1"/><circle cx="553.61" cy="352.99" r="4.1"/><circle cx="555.27" cy="353.85" r="4.1"/><circle cx="556.92" cy="354.73" r="4.1"/><circle cx="558.58" cy="355.62" r="4.1"/><circle cx="560.23" cy="356.51" r="4.1"/><circle cx="561.88" cy="357.42" r="4.1"/><circle cx="563.54" cy="358.33" r="4.1"/><circle cx="565.19" cy="359.25" r="4.1"/><circle cx="566.85" cy="360.18" r="4.1"/><circle cx="568.5" cy="361.11" r="4.1"/><circle cx="570.16" cy="362.05" r="4.1"/><circle cx="571.82" cy="363" r="4.1"/><circle cx="573.47" cy="363.95" r="4.1"/><circle cx="575.12" cy="364.91" r="4.1"/><circle cx="576.78" cy="365.87" r="4.1"/><circle cx="578.44" cy="366.84" r="4.1"/><circle cx="580.09" cy="367.81" r="4.1"/><circle cx="581.75" cy="368.79" r="4.1"/><circle cx="583.4" cy="369.77" r="4.1"/><circle cx="585.06" cy="370.75" r="4.1"/><circle cx="586.71" cy="371.73" r="4.1"/><circle cx="588.37" cy="372.72" r="4.1"/><circle cx="590.02" cy="373.7" r="4.1"/><circle cx="591.67" cy="374.69" r="4.1"/><circle cx="593.33" cy="375.68" r="4.1"/><circle cx="594.99" cy="376.67" r="4.1"/><circle cx="596.64" cy="377.65" r="4.1"/><circle cx="598.29" cy="378.64" r="4.1"/><circle cx="599.95" cy="379.63" r="4.1"/><circle cx="601.61" cy="380.61" r="4.1"/><circle cx="603.26" cy="381.59" r="4.1"/><circle cx="604.92" cy="382.57" r="4.1"/><circle cx="606.57" cy="383.55" r="4.1"/><circle cx="608.23" cy="384.53" r="4.1"/><circle cx="609.88" cy="385.5" r="4.1"/><circle cx="611.54" cy="386.46" r="4.1"/><circle cx="613.19" cy="387.42" r="4.1"/><circle cx="614.85" cy="388.38" r="4.1"/><circle cx="616.5" cy="389.33" r="4.1"/><circle cx="618.15" cy="390.28" r="4.1"/><circle cx="619.81" cy="391.23" r="4.1"/><circle cx="621.47" cy="392.17" r="4.1"/><circle cx="623.12" cy="393.11" r="4.1"/><circle cx="624.77" cy="394.05" r="4.1"/><circle cx="627.09" cy="395.35" r="4.1"/><circle cx="629.41" cy="396.66" r="4.1"/><circle cx="631.06" cy="397.59" r="4.1"/><circle cx="632.39" cy="398.34" r="4.1"/><circle cx="633.51" cy="398.97" r="4.1"/><circle cx="634.57" cy="399.56" r="4.1"/><circle cx="642.72" cy="404.16" r="4.1"/><circle cx="651.06" cy="408.92" r="4.1"/></g>
<g fill="none" stroke="#2a2a2a" stroke-width="1.45" stroke-linecap="round" stroke-linejoin="round">
<rect x="98.9" y="14.2" width="572.15" height="500.09999999999997"/>
<line x1="120" y1="514.3" x2="120" y2="526.8"/>
<line x1="252.4" y1="514.3" x2="252.4" y2="526.8"/>
<line x1="384.8" y1="514.3" x2="384.8" y2="526.8"/>
<line x1="517.2" y1="514.3" x2="517.2" y2="526.8"/>
<line x1="649.6" y1="514.3" x2="649.6" y2="526.8"/>
<line x1="86.4" y1="465" x2="98.9" y2="465"/>
<line x1="86.4" y1="357.1" x2="98.9" y2="357.1"/>
<line x1="86.4" y1="249.2" x2="98.9" y2="249.2"/>
<line x1="86.4" y1="141.3" x2="98.9" y2="141.3"/>
<line x1="86.4" y1="33.4" x2="98.9" y2="33.4"/>
</g>
<g font-family='"Liberation Sans", Arial, Helvetica, sans-serif' font-size="20" fill="#000" stroke="#000" stroke-width="0.2" text-anchor="middle">
<text x="120" y="557.6">20</text>
<text x="252.4" y="557.6">40</text>
<text x="384.8" y="557.6">60</text>
<text x="517.2" y="557.6">80</text>
<text x="649.6" y="557.6">100</text>
<text transform="translate(70.2 465) rotate(-90)">0.2</text>
<text transform="translate(70.2 357.1) rotate(-90)">0.4</text>
<text transform="translate(70.2 249.2) rotate(-90)">0.6</text>
<text transform="translate(70.2 141.3) rotate(-90)">0.8</text>
<text transform="translate(70.2 33.4) rotate(-90)">1.0</text>
<text x="367.1" y="605.6">Life’s Essential 8</text>
<text transform="translate(22.6 292) rotate(-90)">Periodontitis</text>
</g>
</svg>
</body>
</html>
